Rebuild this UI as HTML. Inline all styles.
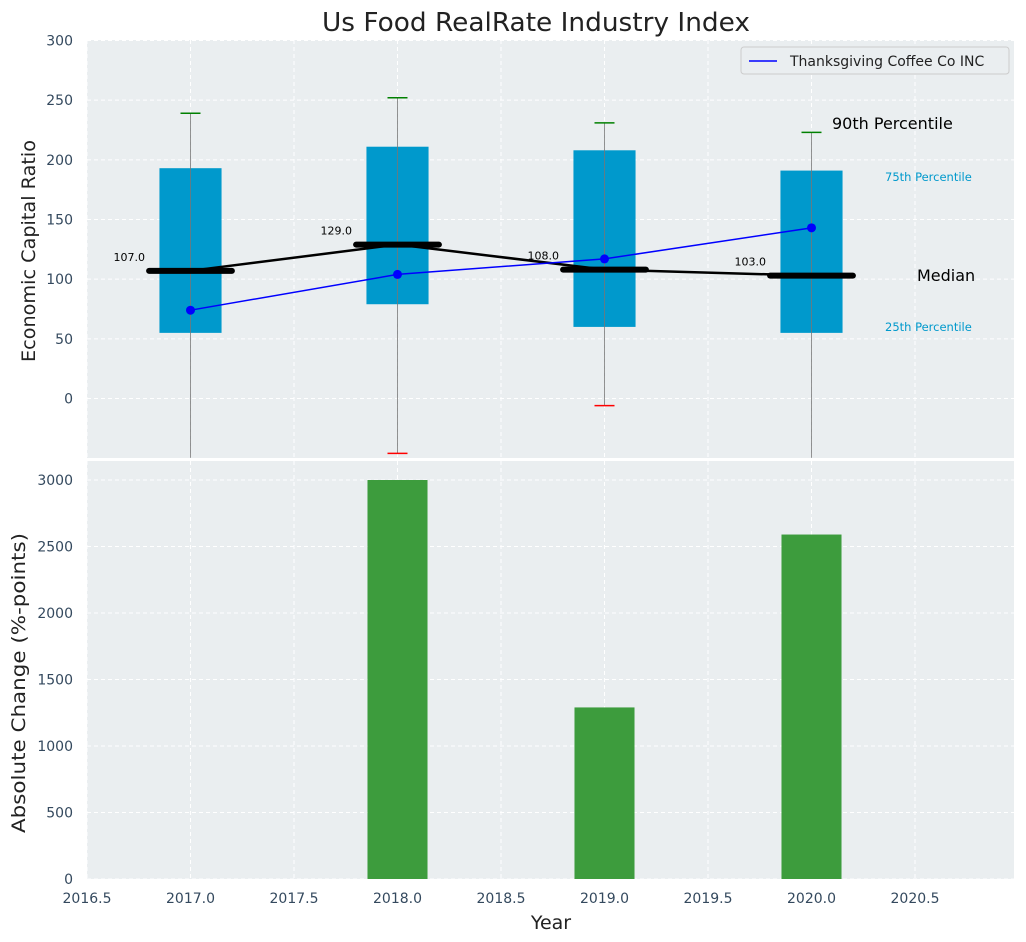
<!DOCTYPE html>
<html><head><meta charset="utf-8"><style>
body{margin:0;background:#fff;}
svg{display:block;font-family:"DejaVu Sans","Liberation Sans",sans-serif;}
</style></head><body>
<svg id="c" width="1026" height="942" viewBox="0 0 1026 942"></svg>
<script>
const years=[2017,2018,2019,2020];
const q1=[55,79,60,55];
const q3=[193,211,208,191];
const medians=[107,129,108,103];
const p90=[239,252,231,223];
const p10=[-60,-46,-6,-60];
const companyValues=[74,104,117,143];
const changeYears=[2018,2019,2020];
const changeValues=[3000,1290,2590];
const topTicks=[0,50,100,150,200,250,300];
const bottomTicks=[0,500,1000,1500,2000,2500,3000];
const xTicks=[2016.5,2017,2017.5,2018,2018.5,2019,2019.5,2020,2020.5];

const NS="http://www.w3.org/2000/svg";
const svg=document.getElementById('c');
function el(t,a,txt){const e=document.createElementNS(NS,t);for(const k in a)e.setAttribute(k,a[k]);if(txt!==undefined)e.textContent=txt;svg.appendChild(e);return e;}
const L=87,R=1014,T1=40,B1=458,T2=461,B2=879;
const x=v=>L+(v-2016.5)*207;
const y1=v=>398.5-v*1.1933;
const y2=v=>B2-v*0.133;

let e;
e=el('rect',{x:L,y:T1,width:R-L,height:B1-T1,fill:'#eaeef0'});


e=el('rect',{x:L,y:T2,width:R-L,height:B2-T2,fill:'#eaeef0'});



xTicks.forEach(t=>{
  [[T1,B1],[T2,B2]].forEach(([a,b])=>{el('line',{x1:x(t),x2:x(t),y1:a,y2:b,stroke:'#fff','stroke-dasharray':'4,3','stroke-width':1});});
  e=el('text',{x:x(t),y:B2+24,'text-anchor':'middle','font-size':14,fill:'#34495e'},t.toFixed(1));
  
  
});
topTicks.forEach(t=>{
  el('line',{x1:L,x2:R,y1:y1(t),y2:y1(t),stroke:'#fff','stroke-dasharray':'4,3'});
  e=el('text',{x:L-14,y:y1(t)+5,'text-anchor':'end','font-size':14,fill:'#34495e'},t);
  
  
});
bottomTicks.forEach(t=>{
  el('line',{x1:L,x2:R,y1:y2(t),y2:y2(t),stroke:'#fff','stroke-dasharray':'4,3'});
  e=el('text',{x:L-14,y:y2(t)+5,'text-anchor':'end','font-size':14,fill:'#34495e'},t);
  
  
});

years.forEach((yr,i)=>{
  const cx=x(yr);
  e=el('rect',{x:x(yr-0.15),y:y1(q3[i]),width:x(yr+0.15)-x(yr-0.15),height:y1(q1[i])-y1(q3[i]),fill:'#0099cc'});
  
  
  const lo=Math.max(p10[i],-49.7);
  e=el('line',{x1:cx,x2:cx,y1:y1(p90[i]),y2:y1(lo),stroke:'#777','stroke-width':1,opacity:0.8});
  
  
  e=el('line',{x1:cx-10,x2:cx+10,y1:y1(p90[i]),y2:y1(p90[i]),stroke:'green','stroke-width':1.5});
  
  
  if(p10[i]>-49){
    e=el('line',{x1:cx-10,x2:cx+10,y1:y1(p10[i]),y2:y1(p10[i]),stroke:'red','stroke-width':1.5});
    
    
  }
});
e=el('polyline',{points:years.map((yr,i)=>x(yr)+','+y1(medians[i])).join(' '),fill:'none',stroke:'#000','stroke-width':2.5});


years.forEach((yr,i)=>{
  e=el('line',{x1:x(yr-0.2),x2:x(yr+0.2),y1:y1(medians[i]),y2:y1(medians[i]),stroke:'#000','stroke-width':6,'stroke-linecap':'round'});
  
  
  e=el('text',{x:x(yr-0.22),y:y1(medians[i])-10,'text-anchor':'end','font-size':11,fill:'#000'},medians[i].toFixed(1));
  
  
});
e=el('polyline',{points:years.map((yr,i)=>x(yr)+','+y1(companyValues[i])).join(' '),fill:'none',stroke:'#0000ff','stroke-width':1.5});


years.forEach((yr,i)=>{
  e=el('circle',{cx:x(yr),cy:y1(companyValues[i]),r:4.5,fill:'#0000ff'});
  
  
});
e=el('text',{x:832,y:129,'font-size':16,fill:'#000'},'90th Percentile');

e=el('text',{x:885,y:181,'font-size':11.5,fill:'#0099cc'},'75th Percentile');

e=el('text',{x:917,y:281,'font-size':16,fill:'#000'},'Median');

e=el('text',{x:885,y:331,'font-size':11.5,fill:'#0099cc'},'25th Percentile');


e=el('rect',{x:741,y:47,width:268,height:27,rx:3,fill:'#eaeef0',stroke:'#ccc'});

el('line',{x1:749,x2:777,y1:61,y2:61,stroke:'#0000ff','stroke-width':1.5});
e=el('text',{x:790,y:66,'font-size':14,fill:'#222'},'Thanksgiving Coffee Co INC');


changeYears.forEach((yr,i)=>{
  e=el('rect',{x:x(yr-0.145),y:y2(changeValues[i]),width:x(yr+0.145)-x(yr-0.145),height:B2-y2(changeValues[i]),fill:'#3d9c3d'});
  
  
});

e=el('text',{x:322,y:31,'font-size':26,fill:'#222',textLength:428,lengthAdjust:'spacingAndGlyphs'},'Us Food RealRate Industry Index');

e=el('text',{x:0,y:0,'font-size':19,fill:'#222',textLength:222,lengthAdjust:'spacingAndGlyphs',transform:'translate(35,362) rotate(-90)'},'Economic Capital Ratio');

e=el('text',{x:0,y:0,'font-size':19,fill:'#222',textLength:300,lengthAdjust:'spacingAndGlyphs',transform:'translate(25,833) rotate(-90)'},'Absolute Change (%-points)');

e=el('text',{x:551,y:929,'text-anchor':'middle','font-size':19,fill:'#222'},'Year');

</script>
</body></html>
